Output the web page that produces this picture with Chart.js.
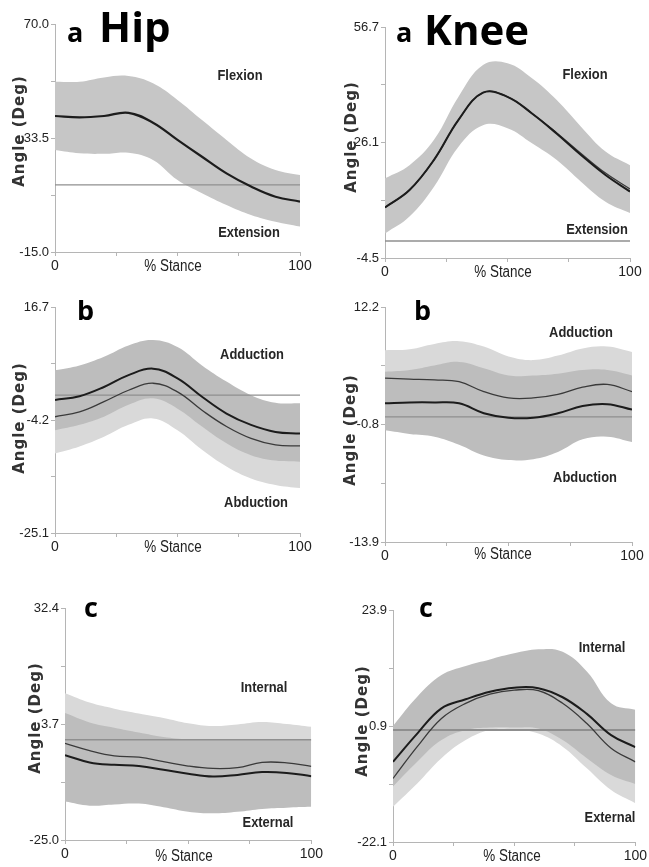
<!DOCTYPE html>
<html><head><meta charset="utf-8">
<script src="https://cdn.jsdelivr.net/npm/chart.js@4.4.1/dist/chart.umd.min.js"></script>
<style>
html,body{margin:0;padding:0;background:#fff;}
#wrap{position:relative;width:649px;height:867px;overflow:hidden;background:#fff;}
canvas{position:absolute;}
</style></head><body><div id="wrap">
<canvas id="c1" width="325" height="290" style="left:0px;top:0px;width:325px;height:290px"></canvas>
<canvas id="c2" width="324" height="290" style="left:325px;top:0px;width:324px;height:290px"></canvas>
<canvas id="c3" width="325" height="290" style="left:0px;top:290px;width:325px;height:290px"></canvas>
<canvas id="c4" width="324" height="290" style="left:325px;top:290px;width:324px;height:290px"></canvas>
<canvas id="c5" width="325" height="287" style="left:0px;top:580px;width:325px;height:287px"></canvas>
<canvas id="c6" width="324" height="287" style="left:325px;top:580px;width:324px;height:287px"></canvas>
</div>
<script>
// ---- data ----
const stance = [0, 10, 20, 30, 40, 50, 60, 70, 80, 90, 100];
const xTickLabels = ['0', '', '', '', '100'];

// Hip a (flexion/extension)
const hipAYTicks = ['-15.0', '33.5', '70.0'];
const hipAMean  = [35.7, 35.2, 35.7, 36.9, 33.2, 26.8, 20.5, 14.3, 9.4, 5.6, 3.8];
const hipAUpper = [48.5, 48.5, 50.1, 50.6, 47.9, 41.7, 34.2, 26.8, 19.9, 15.6, 13.7];
const hipALower = [23.0, 21.8, 21.6, 22.0, 19.3, 11.8, 6.9, 2.5, -1.2, -3.7, -5.5];
const hipARef = 10.0;

// Knee a (flexion/extension)
const kneeAYTicks = ['-4.5', '26.1', '56.7'];
const kneeAMean1 = [8.9, 13.5, 21.5, 32.1, 39.3, 38.2, 33.8, 28.5, 22.8, 17.5, 13.1];
const kneeAMean2 = [8.9, 13.5, 21.5, 32.1, 39.3, 38.2, 33.8, 28.7, 23.2, 18.0, 13.8];
const kneeAUpper = [16.6, 20.1, 26.8, 38.2, 46.6, 47.1, 43.1, 37.4, 30.3, 23.7, 20.1];
const kneeALower = [2.0, 6.5, 14.4, 25.0, 30.7, 29.9, 25.9, 21.5, 15.7, 10.4, 7.4];
const kneeARef = 0.0;

// Hip b (adduction/abduction)
const hipBYTicks = ['-25.1', '-4.2', '16.7'];
const hipBMean1  = [-0.5, 0.2, 1.9, 4.1, 5.3, 3.5, 0.1, -3.0, -5.1, -6.4, -6.7];
const hipBMean2  = [-3.6, -2.7, -0.8, 1.3, 2.6, 1.0, -2.4, -5.4, -7.6, -8.8, -9.0];
const hipBUpper1 = [5.0, 5.9, 7.5, 9.6, 10.6, 9.3, 5.9, 2.9, 0.4, -1.0, -1.1];
const hipBLower1 = [-6.1, -5.1, -3.6, -1.4, -0.2, -2.1, -5.4, -8.5, -10.7, -11.7, -11.9];
const hipBUpper2 = [3.2, 3.8, 5.6, 7.8, 9.0, 8.1, 5.0, 1.9, -0.2, -1.4, -1.5];
const hipBLower2 = [-10.4, -9.1, -7.3, -5.1, -3.9, -6.1, -9.7, -12.8, -15.0, -16.2, -16.8];
const hipBRef = 0.4;

// Knee b (adduction/abduction)
const kneeBYTicks = ['-13.9', '-0.8', '12.2'];
const kneeBMean1  = [1.5, 1.6, 1.6, 1.5, 0.4, -0.1, -0.1, 0.4, 1.2, 1.4, 0.8];
const kneeBMean2  = [4.3, 4.2, 4.1, 3.9, 2.8, 2.1, 2.1, 2.5, 3.3, 3.6, 2.8];
const kneeBUpper1 = [5.0, 5.2, 5.7, 6.1, 5.4, 4.6, 4.6, 4.8, 5.2, 5.2, 4.6];
const kneeBLower1 = [-1.5, -1.9, -2.2, -3.1, -4.3, -4.8, -4.7, -3.9, -2.5, -2.2, -2.8];
const kneeBUpper2 = [7.4, 7.5, 8.1, 8.4, 7.8, 6.7, 6.3, 6.8, 7.6, 7.8, 7.2];
const kneeBLower2 = [1.2, 1.0, 0.1, -0.7, -1.5, -1.8, -1.6, -1.5, -0.9, -0.5, -1.2];
const kneeBRef = 0.0;

// Hip c (internal/external rotation)
const hipCYTicks = ['-25.0', '3.7', '32.4'];
const hipCMean1  = [-4.0, -5.8, -6.4, -6.7, -7.6, -8.6, -9.3, -8.9, -8.2, -8.4, -9.2];
const hipCMean2  = [-1.1, -2.9, -4.2, -4.5, -5.6, -6.7, -7.3, -7.1, -5.8, -5.9, -6.8];
const hipCUpper1 = [6.4, 4.1, 2.8, 1.6, 0.5, -0.1, -0.2, -0.2, -0.2, -0.2, -0.2];
const hipCLower1 = [-15.5, -16.5, -16.2, -16.0, -16.9, -18.0, -18.4, -18.0, -17.3, -17.0, -16.8];
const hipCUpper2 = [11.3, 9.0, 7.5, 6.3, 5.2, 3.9, 3.2, 3.6, 4.2, 3.7, 3.0];
const hipCLower2 = [-13.5, -14.5, -14.5, -14.5, -15.5, -16.5, -16.8, -16.5, -15.8, -15.5, -15.3];
const hipCRef = -0.2;

// Knee c (internal/external rotation)
const kneeCYTicks = ['-22.1', '0.9', '23.9'];
const kneeCMean1  = [-6.2, -0.6, 4.4, 6.2, 7.7, 8.5, 8.4, 6.6, 3.3, -0.9, -3.3];
const kneeCMean2  = [-9.5, -3.2, 2.4, 5.4, 7.2, 8.0, 7.9, 5.4, 1.4, -3.5, -6.2];
const kneeCUpper1 = [0.9, 6.7, 11.0, 12.8, 14.1, 15.3, 16.1, 15.6, 11.7, 5.4, 4.1];
const kneeCLower1 = [-11.1, -6.2, -1.9, 0.1, 0.6, 0.6, 0.4, -1.9, -5.5, -8.8, -10.6];
const kneeCUpper2 = [-2.0, 3.0, 8.0, 10.0, 12.0, 13.0, 13.0, 12.0, 8.0, 2.0, 0.0];
const kneeCLower2 = [-15.1, -10.5, -5.5, -1.9, 0.1, 0.2, -0.6, -3.2, -7.5, -11.8, -14.4];
const kneeCRef = 0.1;

// ---- styling / helpers ----
const SANS = "'Liberation Sans',Arial,sans-serif";
const TITLE = "'Open Sans','Noto Sans',sans-serif";
const YTITLE = "'DejaVu Sans',sans-serif";
const DARK = '#1c1c1c', THIN = '#3a3a3a', REF = '#8f8f8f';
const BAND = '#c6c6c6', MED = '#bdbdbd', LIGHT = '#d9d9d9';

function pts(vals) { return stance.map((x, i) => ({ x: x, y: vals[i] })); }
function flat(v) { return [{ x: stance[0], y: v }, { x: stance[stance.length - 1], y: v }]; }
function line(vals, color, w) {
  return { data: pts(vals), borderColor: color, borderWidth: w, pointRadius: 0, fill: false, tension: 0.4 };
}
function refLine(v, w) {
  return { data: flat(v), borderColor: REF, borderWidth: w, pointRadius: 0, fill: false };
}
function band(up, lo, color) {
  return [
    { data: pts(up), borderColor: 'rgba(0,0,0,0)', borderWidth: 0, backgroundColor: color, fill: '+1', pointRadius: 0, tension: 0.4 },
    { data: pts(lo), borderColor: 'rgba(0,0,0,0)', borderWidth: 0, fill: false, pointRadius: 0, tension: 0.4 }
  ];
}

const textPlugin = {
  id: 'panelText',
  afterDraw(chart, args, opts) {
    const ctx = chart.ctx;
    (opts.items || []).forEach(t => {
      ctx.save();
      ctx.font = t.font;
      if (t.spacing) ctx.letterSpacing = t.spacing;
      ctx.fillStyle = t.color || '#222';
      ctx.textAlign = t.align || 'center';
      ctx.textBaseline = t.baseline || 'middle';
      ctx.translate(t.x, t.y);
      if (t.rotate) ctx.rotate(t.rotate);
      if (t.sx) ctx.scale(t.sx, 1);
      ctx.fillText(t.text, 0, 0);
      ctx.restore();
    });
  }
};
Chart.register(textPlugin);

function makePanel(id, o) {
  const yl = [o.yTicks[0], '', o.yTicks[1], '', o.yTicks[2]];
  const q = [0, 1, 2, 3, 4];
  const items = [];
  o.title.forEach(t => items.push({ text: t.text, x: t.x, y: t.y, font: t.font, align: 'left', baseline: 'alphabetic', color: '#000' }));
  items.push({ text: 'Angle (Deg)', x: o.yTitle[0], y: o.yTitle[1], font: 'bold 15px ' + YTITLE, spacing: '1px', rotate: -Math.PI / 2, color: '#333' });
  items.push({ text: o.upLabel[0], x: o.upLabel[1], y: o.upLabel[2], font: 'bold 15px ' + SANS, sx: 0.86, color: '#262626' });
  items.push({ text: o.lowLabel[0], x: o.lowLabel[1], y: o.lowLabel[2], font: 'bold 15px ' + SANS, sx: 0.86, color: '#262626' });
  items.push({ text: '% Stance', x: o.stance[0], y: o.stance[1], font: '16px ' + SANS, sx: 0.84, color: '#222' });

  new Chart(document.getElementById(id), {
    type: 'line',
    data: { datasets: o.datasets },
    options: {
      responsive: false, animation: false, devicePixelRatio: 1,
      layout: { padding: o.pad },
      plugins: { legend: { display: false }, tooltip: { enabled: false }, title: { display: false }, panelText: { items: items } },
      scales: {
        x: {
          type: 'linear', min: stance[0], max: stance[stance.length - 1],
          afterBuildTicks: s => { s.ticks = q.map(i => ({ value: s.min + (s.max - s.min) * i / 4 })); },
          afterFit: s => { s.height = o.xh; },
          ticks: { callback: (v, i) => xTickLabels[i], autoSkip: false, maxRotation: 0, font: { family: SANS, size: 14 }, color: '#222', padding: 2 },
          grid: { display: true, drawOnChartArea: false, drawTicks: true, tickLength: 4, color: '#b5b5b5' },
          border: { display: true, color: '#b5b5b5', width: 1 }
        },
        y: {
          type: 'linear', min: o.yMin, max: o.yMax,
          afterBuildTicks: s => { s.ticks = q.map(i => ({ value: s.min + (s.max - s.min) * i / 4 })); },
          afterFit: s => { s.width = o.yw; },
          ticks: { callback: (v, i) => yl[i], autoSkip: false, font: { family: SANS, size: 13 }, color: '#222', padding: 2 },
          grid: { display: true, drawOnChartArea: false, drawTicks: true, tickLength: 4, color: '#b5b5b5' },
          border: { display: true, color: '#b5b5b5', width: 1 }
        }
      }
    }
  });
}

const bigT = 'bold 42px ' + TITLE, smallA = 'bold 27px ' + TITLE, letT = 'bold 27px ' + TITLE;

makePanel('c1', {
  yMin: -15, yMax: 70, yTicks: hipAYTicks, yw: 55, xh: 30, pad: { left: 0, top: 24, right: 25, bottom: 8 },
  title: [{ text: 'a', x: 67, y: 42, font: smallA }, { text: 'Hip', x: 99, y: 42, font: bigT }],
  yTitle: [20, 131], upLabel: ['Flexion', 240, 76], lowLabel: ['Extension', 249, 233], stance: [173, 267],
  datasets: [line(hipAMean, DARK, 2.2), refLine(hipARef, 1.3)].concat(band(hipAUpper, hipALower, BAND))
});
makePanel('c2', {
  yMin: -4.5, yMax: 56.7, yTicks: kneeAYTicks, yw: 60, xh: 30, pad: { left: 0, top: 27, right: 19, bottom: 2 },
  title: [{ text: 'a', x: 71, y: 42, font: smallA }, { text: 'Knee', x: 99, y: 45, font: bigT }],
  yTitle: [27, 137], upLabel: ['Flexion', 260, 75], lowLabel: ['Extension', 272, 230], stance: [178, 273],
  datasets: [line(kneeAMean1, DARK, 2), line(kneeAMean2, THIN, 1.3), refLine(kneeARef, 1.3)].concat(band(kneeAUpper, kneeALower, BAND))
});
makePanel('c3', {
  yMin: -25.1, yMax: 16.7, yTicks: hipBYTicks, yw: 55, xh: 30, pad: { left: 0, top: 17, right: 25, bottom: 17 },
  title: [{ text: 'b', x: 77, y: 30, font: letT }],
  yTitle: [20, 128], upLabel: ['Adduction', 252, 65], lowLabel: ['Abduction', 256, 213], stance: [173, 258],
  datasets: [line(hipBMean1, DARK, 2), line(hipBMean2, THIN, 1.3), refLine(hipBRef, 1.3)]
    .concat(band(hipBUpper1, hipBLower1, MED)).concat(band(hipBUpper2, hipBLower2, LIGHT))
});
makePanel('c4', {
  yMin: -13.9, yMax: 12.2, yTicks: kneeBYTicks, yw: 60, xh: 30, pad: { left: 0, top: 17, right: 17, bottom: 8 },
  title: [{ text: 'b', x: 89, y: 30, font: letT }],
  yTitle: [26, 140], upLabel: ['Adduction', 256, 43], lowLabel: ['Abduction', 260, 188], stance: [178, 265],
  datasets: [line(kneeBMean1, DARK, 2), line(kneeBMean2, THIN, 1.3), refLine(kneeBRef, 1.3)]
    .concat(band(kneeBUpper1, kneeBLower1, MED)).concat(band(kneeBUpper2, kneeBLower2, LIGHT))
});
makePanel('c5', {
  yMin: -25.0, yMax: 32.4, yTicks: hipCYTicks, yw: 65, xh: 25, pad: { left: 0, top: 28, right: 13, bottom: 2 },
  title: [{ text: 'c', x: 84, y: 37, font: letT }],
  yTitle: [36, 138], upLabel: ['Internal', 264, 108], lowLabel: ['External', 268, 243], stance: [184, 277],
  datasets: [line(hipCMean1, DARK, 2), line(hipCMean2, THIN, 1.3), refLine(hipCRef, 1.3)]
    .concat(band(hipCUpper1, hipCLower1, MED)).concat(band(hipCUpper2, hipCLower2, LIGHT))
});
makePanel('c6', {
  yMin: -22.1, yMax: 23.9, yTicks: kneeCYTicks, yw: 68, xh: 25, pad: { left: 0, top: 30, right: 11, bottom: 0 },
  title: [{ text: 'c', x: 94, y: 37, font: letT }],
  yTitle: [38, 141], upLabel: ['Internal', 277, 68], lowLabel: ['External', 285, 238], stance: [187, 277],
  datasets: [line(kneeCMean1, DARK, 2), line(kneeCMean2, THIN, 1.3), refLine(kneeCRef, 2)]
    .concat(band(kneeCUpper1, kneeCLower1, MED)).concat(band(kneeCUpper2, kneeCLower2, LIGHT))
});
</script>
</body></html>
